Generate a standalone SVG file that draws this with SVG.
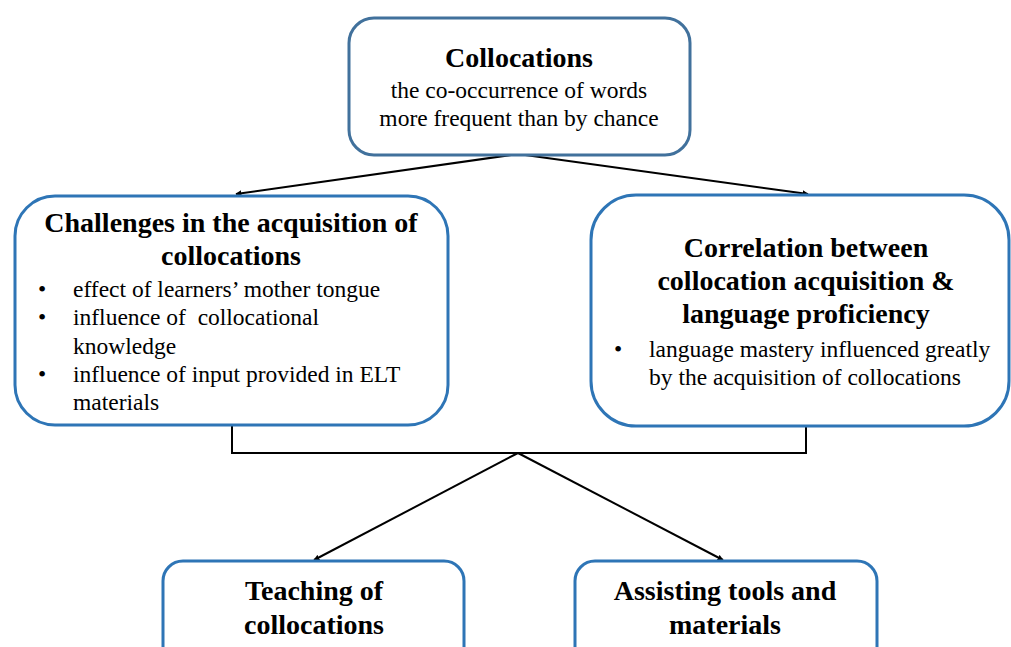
<svg xmlns="http://www.w3.org/2000/svg" width="1011" height="647" viewBox="0 0 1011 647" font-family="Liberation Serif, Times New Roman, serif">
<style>
.box{fill:#fff;stroke:#2e75b6;stroke-width:3}
.top{stroke:#41719c}
.h{font-size:28px;font-weight:bold;text-anchor:middle}
.b{font-size:23.5px}
.c{text-anchor:middle}
.ln{stroke:#000;stroke-width:2;fill:none}
</style>
<defs>
<marker id="ah" viewBox="0 0 10 10" refX="9" refY="5" markerWidth="6" markerHeight="6" orient="auto" markerUnits="userSpaceOnUse">
<path d="M0,0 L10,5 L0,10 z" fill="#000"/>
</marker>
</defs>
<rect width="1011" height="647" fill="#fff"/>
<g id="connectors">
<line class="ln" x1="518" y1="154" x2="236" y2="194" marker-end="url(#ah)"/>
<line class="ln" x1="518" y1="154" x2="808" y2="194" marker-end="url(#ah)"/>
<polyline class="ln" points="232,425 232,453 806,453 806,425"/>
<line class="ln" x1="518" y1="453" x2="314" y2="560" marker-end="url(#ah)"/>
<line class="ln" x1="518" y1="453" x2="723" y2="560" marker-end="url(#ah)"/>
</g>
<g id="collocations">
<rect class="box top" x="349" y="18" width="341" height="137" rx="25"/>
<text class="h" x="519" y="67" font-family="Liberation Serif, serif">Collocations</text>
<text class="b c" x="519" y="98" font-family="Liberation Serif, serif">the co-occurrence of words</text>
<text class="b c" x="519" y="126" font-family="Liberation Serif, serif">more frequent than by chance</text>
</g>
<g id="challenges" font-family="Liberation Serif, serif">
<rect class="box" x="15" y="196" width="433" height="229" rx="40"/>
<text class="h" x="231" y="232">Challenges in the acquisition of</text>
<text class="h" x="231" y="265">collocations</text>
<text class="b" x="38" y="297">•</text>
<text class="b" x="73" y="297">effect of learners’ mother tongue</text>
<text class="b" x="38" y="325">•</text>
<text class="b" x="73" y="325" xml:space="preserve">influence of  collocational</text>
<text class="b" x="73" y="354">knowledge</text>
<text class="b" x="38" y="382">•</text>
<text class="b" x="73" y="382">influence of input provided in ELT</text>
<text class="b" x="73" y="410">materials</text>
</g>
<g id="correlation" font-family="Liberation Serif, serif">
<rect class="box" x="591" y="195" width="418" height="231" rx="45"/>
<text class="h" x="806" y="257">Correlation between</text>
<text class="h" x="806" y="290">collocation acquisition &amp;</text>
<text class="h" x="806" y="323">language proficiency</text>
<text class="b" x="614" y="357">•</text>
<text class="b" x="649" y="357">language mastery influenced greatly</text>
<text class="b" x="649" y="385">by the acquisition of collocations</text>
</g>
<g id="teaching" font-family="Liberation Serif, serif">
<rect class="box" x="163" y="561" width="301" height="110" rx="20"/>
<text class="h" x="314" y="600">Teaching of</text>
<text class="h" x="314" y="634">collocations</text>
</g>
<g id="assisting" font-family="Liberation Serif, serif">
<rect class="box" x="575" y="561" width="302" height="110" rx="20"/>
<text class="h" x="725" y="600">Assisting tools and</text>
<text class="h" x="725" y="634">materials</text>
</g>
</svg>
